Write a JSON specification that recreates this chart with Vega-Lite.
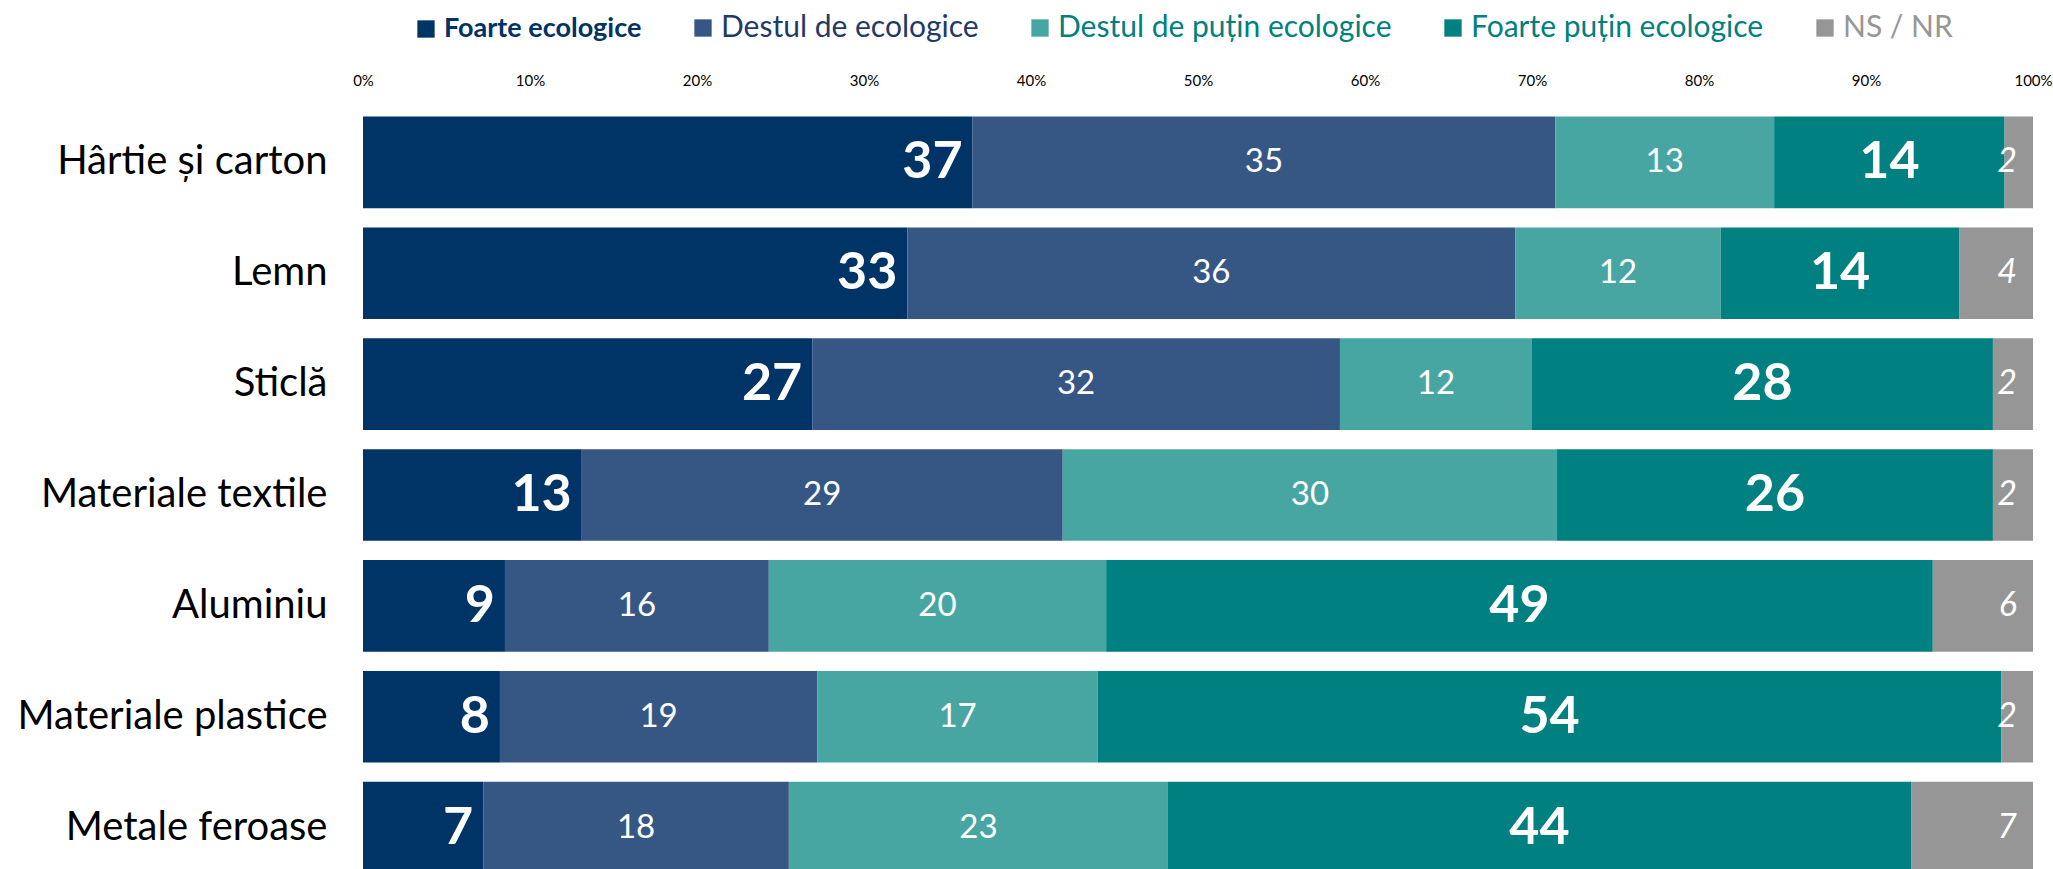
{
  "$schema": "https://vega.github.io/schema/vega-lite/v6.json",
  "autosize": "none",
  "padding": {"left": 363, "top": 106, "right": 20, "bottom": 0},
  "width": 1670,
  "height": 778,
  "background": "white",
  "config": {
    "font": "Lato",
    "view": {"stroke": null}
  },
  "data": {
    "values": [
      {"cat": "Hârtie și carton", "resp": "Foarte ecologice", "ord": 0, "v": 36.5, "lab": 37},
      {"cat": "Hârtie și carton", "resp": "Destul de ecologice", "ord": 1, "v": 34.9, "lab": 35},
      {"cat": "Hârtie și carton", "resp": "Destul de puțin ecologice", "ord": 2, "v": 13.1, "lab": 13},
      {"cat": "Hârtie și carton", "resp": "Foarte puțin ecologice", "ord": 3, "v": 13.8, "lab": 14},
      {"cat": "Hârtie și carton", "resp": "NS / NR", "ord": 4, "v": 1.7, "lab": 2},
      {"cat": "Lemn", "resp": "Foarte ecologice", "ord": 0, "v": 32.6, "lab": 33},
      {"cat": "Lemn", "resp": "Destul de ecologice", "ord": 1, "v": 36.4, "lab": 36},
      {"cat": "Lemn", "resp": "Destul de puțin ecologice", "ord": 2, "v": 12.3, "lab": 12},
      {"cat": "Lemn", "resp": "Foarte puțin ecologice", "ord": 3, "v": 14.3, "lab": 14},
      {"cat": "Lemn", "resp": "NS / NR", "ord": 4, "v": 4.4, "lab": 4},
      {"cat": "Sticlă", "resp": "Foarte ecologice", "ord": 0, "v": 26.9, "lab": 27},
      {"cat": "Sticlă", "resp": "Destul de ecologice", "ord": 1, "v": 31.6, "lab": 32},
      {"cat": "Sticlă", "resp": "Destul de puțin ecologice", "ord": 2, "v": 11.5, "lab": 12},
      {"cat": "Sticlă", "resp": "Foarte puțin ecologice", "ord": 3, "v": 27.6, "lab": 28},
      {"cat": "Sticlă", "resp": "NS / NR", "ord": 4, "v": 2.4, "lab": 2},
      {"cat": "Materiale textile", "resp": "Foarte ecologice", "ord": 0, "v": 13.1, "lab": 13},
      {"cat": "Materiale textile", "resp": "Destul de ecologice", "ord": 1, "v": 28.8, "lab": 29},
      {"cat": "Materiale textile", "resp": "Destul de puțin ecologice", "ord": 2, "v": 29.6, "lab": 30},
      {"cat": "Materiale textile", "resp": "Foarte puțin ecologice", "ord": 3, "v": 26.1, "lab": 26},
      {"cat": "Materiale textile", "resp": "NS / NR", "ord": 4, "v": 2.4, "lab": 2},
      {"cat": "Aluminiu", "resp": "Foarte ecologice", "ord": 0, "v": 8.5, "lab": 9},
      {"cat": "Aluminiu", "resp": "Destul de ecologice", "ord": 1, "v": 15.8, "lab": 16},
      {"cat": "Aluminiu", "resp": "Destul de puțin ecologice", "ord": 2, "v": 20.2, "lab": 20},
      {"cat": "Aluminiu", "resp": "Foarte puțin ecologice", "ord": 3, "v": 49.5, "lab": 49},
      {"cat": "Aluminiu", "resp": "NS / NR", "ord": 4, "v": 6.0, "lab": 6},
      {"cat": "Materiale plastice", "resp": "Foarte ecologice", "ord": 0, "v": 8.2, "lab": 8},
      {"cat": "Materiale plastice", "resp": "Destul de ecologice", "ord": 1, "v": 19.0, "lab": 19},
      {"cat": "Materiale plastice", "resp": "Destul de puțin ecologice", "ord": 2, "v": 16.8, "lab": 17},
      {"cat": "Materiale plastice", "resp": "Foarte puțin ecologice", "ord": 3, "v": 54.1, "lab": 54},
      {"cat": "Materiale plastice", "resp": "NS / NR", "ord": 4, "v": 1.9, "lab": 2},
      {"cat": "Metale feroase", "resp": "Foarte ecologice", "ord": 0, "v": 7.2, "lab": 7},
      {"cat": "Metale feroase", "resp": "Destul de ecologice", "ord": 1, "v": 18.3, "lab": 18},
      {"cat": "Metale feroase", "resp": "Destul de puțin ecologice", "ord": 2, "v": 22.7, "lab": 23},
      {"cat": "Metale feroase", "resp": "Foarte puțin ecologice", "ord": 3, "v": 44.5, "lab": 44},
      {"cat": "Metale feroase", "resp": "NS / NR", "ord": 4, "v": 7.3, "lab": 7}
    ]
  },
  "transform": [
    {"stack": "v", "groupby": ["cat"], "sort": [{"field": "ord"}], "as": ["v0", "v1"]}
  ],
  "encoding": {
    "y": {
      "field": "cat", "type": "nominal", "sort": null,
      "scale": {"paddingInner": 0.174, "paddingOuter": 0.095},
      "axis": {"title": null, "domain": false, "ticks": false, "tickSize": 0, "labelPadding": 36, "labelFontSize": 40, "labelLimit": 400, "labelColor": "#000000", "labelFont": "Lato"}
    }
  },
  "layer": [
    {
      "mark": {"type": "bar"},
      "encoding": {
        "x": {
          "field": "v0", "type": "quantitative",
          "scale": {"domain": [0, 100], "nice": false},
          "axis": {"orient": "top", "title": null, "values": [0,10,20,30,40,50,60,70,80,90,100], "labelExpr": "datum.value + '%'", "domain": false, "ticks": false, "tickSize": 0, "grid": false, "labelPadding": 18, "labelFontSize": 15, "labelColor": "#000000", "labelFlush": false}
        },
        "x2": {"field": "v1"},
        "color": {
          "field": "resp", "type": "nominal",
          "scale": {
            "domain": ["Foarte ecologice", "Destul de ecologice", "Destul de puțin ecologice", "Foarte puțin ecologice", "NS / NR"],
            "range": ["#003366", "#365784", "#48a6a2", "#008080", "#969696"]
          },
          "legend": {
            "title": null, "orient": "none", "direction": "horizontal",
            "legendX": 48, "legendY": -93,
            "symbolType": "square", "symbolSize": 300, "symbolStrokeWidth": 0, "symbolOpacity": 1,
            "labelFontSize": 30, "labelOffset": 3, "columnPadding": 46, "labelLimit": 500,
            "encode": {
              "labels": {
                "update": {
                  "fill": {"signal": "datum.value === 'Foarte ecologice' ? '#003366' : datum.value === 'Destul de ecologice' ? '#1f3a68' : datum.value === 'NS / NR' ? '#969696' : '#00807f'"},
                  "fontWeight": {"signal": "datum.value === 'Foarte ecologice' ? 'bold' : 'normal'"},
                  "fontSize": {"signal": "datum.value === 'Foarte ecologice' ? 27 : 30"}
                }
              }
            }
          }
        },
        "order": {"field": "ord"}
      }
    },
    {
      "transform": [{"filter": "datum.ord === 0"}],
      "mark": {"type": "text", "align": "right", "baseline": "middle", "dx": -10, "fontSize": 52, "fontWeight": "bold", "color": "white"},
      "encoding": {
        "x": {"field": "v1", "type": "quantitative"},
        "text": {"field": "lab"}
      }
    },
    {
      "transform": [
        {"filter": "datum.ord === 4"}
      ],
      "mark": {"type": "text", "align": "right", "baseline": "middle", "dx": -16, "fontSize": 34, "fontStyle": "italic", "color": "white"},
      "encoding": {
        "x": {"field": "v1", "type": "quantitative"},
        "text": {"field": "lab"}
      }
    },
    {
      "transform": [
        {"filter": "datum.ord === 1 || datum.ord === 2"},
        {"fold": ["v0", "v1"], "as": ["k", "p"]},
        {"aggregate": [{"op": "mean", "field": "p", "as": "mid"}], "groupby": ["cat", "ord", "lab"]}
      ],
      "mark": {"type": "text", "align": "center", "baseline": "middle", "fontSize": 33, "color": "white"},
      "encoding": {
        "x": {"field": "mid", "type": "quantitative"},
        "text": {"field": "lab"}
      }
    },
    {
      "transform": [
        {"filter": "datum.ord === 3"},
        {"fold": ["v0", "v1"], "as": ["k", "p"]},
        {"aggregate": [{"op": "mean", "field": "p", "as": "mid"}], "groupby": ["cat", "ord", "lab"]}
      ],
      "mark": {"type": "text", "align": "center", "baseline": "middle", "fontSize": 52, "fontWeight": "bold", "color": "white"},
      "encoding": {
        "x": {"field": "mid", "type": "quantitative"},
        "text": {"field": "lab"}
      }
    }
  ]
}
